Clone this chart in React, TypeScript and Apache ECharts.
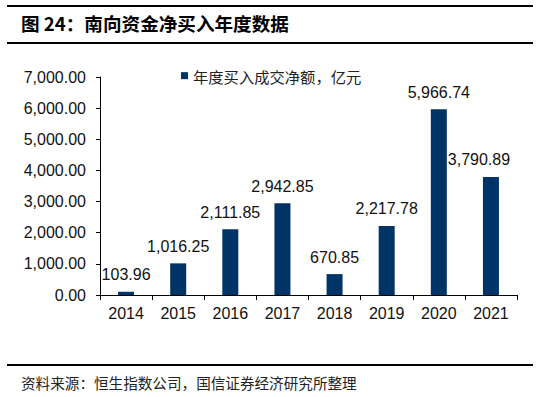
import React, { useEffect, useRef } from "react";
import * as echarts from "echarts";

const categories = ["2014", "2015", "2016", "2017", "2018", "2019", "2020", "2021"];
const netBuy = [103.96, 1016.25, 2111.85, 2942.85, 670.85, 2217.78, 5966.74, 3790.89];
const seriesName = "年度买入成交净额，亿元";
const titleText = "图 24：南向资金净买入年度数据";
const sourceText = "资料来源：恒生指数公司，国信证券经济研究所整理";

const NUM_FONT = "'Liberation Sans', Arial, sans-serif";
const CJK_FONT = "'Noto Sans CJK SC', sans-serif";

const fmt = (v: number) =>
  Number(v).toLocaleString("en-US", { minimumFractionDigits: 2, maximumFractionDigits: 2 });

export default function App() {
  const ref = useRef<HTMLDivElement>(null);
  useEffect(() => {
    if (!ref.current) return;
    const chart = echarts.init(ref.current, undefined, { renderer: "svg" });
    chart.setOption({
      animation: false,
      backgroundColor: "#ffffff",
      grid: { left: 100, right: 23, top: 77, bottom: 102 },
      legend: {
        data: [seriesName],
        left: 176,
        top: 63,
        itemWidth: 7,
        itemHeight: 7,
        itemGap: 5,
        icon: "rect",
        textStyle: { fontFamily: CJK_FONT, fontSize: 15.3, color: "#222" },
      },
      xAxis: {
        type: "category",
        data: categories,
        axisLine: { lineStyle: { color: "#000", width: 1 } },
        axisTick: { show: true, length: 5, lineStyle: { color: "#000" } },
        axisLabel: { fontFamily: NUM_FONT, fontSize: 16, color: "#111", margin: 10 },
      },
      yAxis: {
        type: "value",
        min: 0,
        max: 7000,
        interval: 1000,
        splitLine: { show: false },
        axisLine: { show: true, lineStyle: { color: "#000", width: 1 } },
        axisTick: { show: true, length: 4, lineStyle: { color: "#000" } },
        axisLabel: {
          fontFamily: NUM_FONT,
          fontSize: 16,
          color: "#111",
          margin: 14,
          formatter: (v: number) => fmt(v),
        },
      },
      series: [
        {
          name: seriesName,
          type: "bar",
          barWidth: 16,
          itemStyle: { color: "#003366" },
          data: netBuy.map((v, i) =>
            i === netBuy.length - 1 ? { value: v, label: { offset: [-12, 0] } } : v
          ),
          label: {
            show: true,
            position: "top",
            distance: 9,
            fontFamily: NUM_FONT,
            fontSize: 16,
            color: "#111",
            formatter: (p: any) => fmt(p.value),
          },
        },
      ],
      graphic: [
        { type: "rect", shape: { x: 7, y: 5, width: 526, height: 2 }, style: { fill: "#000" } },
        {
          type: "text",
          left: 21,
          top: 13,
          style: { text: titleText, fontFamily: CJK_FONT, fontSize: 18.6, fontWeight: "bold", fill: "#000" },
        },
        { type: "rect", shape: { x: 7, y: 42, width: 526, height: 2 }, style: { fill: "#000" } },
        { type: "rect", shape: { x: 7, y: 364, width: 526, height: 2 }, style: { fill: "#000" } },
        {
          type: "text",
          left: 21,
          top: 375,
          style: { text: sourceText, fontFamily: CJK_FONT, fontSize: 14.6, fill: "#222" },
        },
      ],
    });
    return () => chart.dispose();
  }, []);
  return (
    <div
      ref={ref}
      style={{ position: "fixed", left: 0, top: 0, width: 540, height: 397, background: "#fff" }}
    />
  );
}
